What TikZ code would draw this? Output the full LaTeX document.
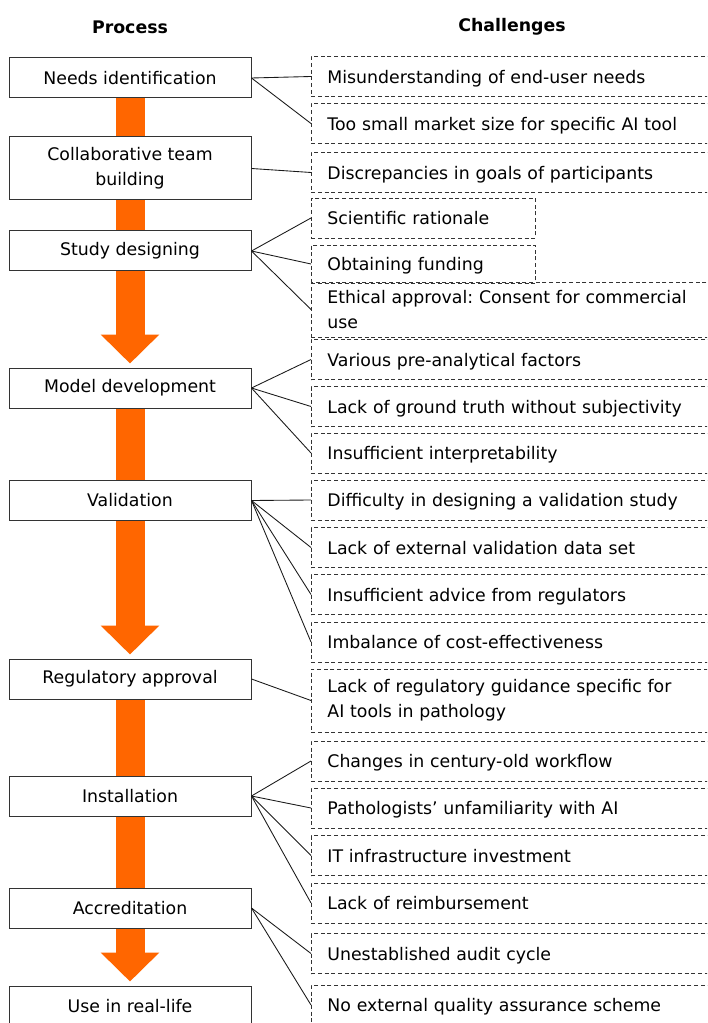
\documentclass[tikz,border=0pt]{standalone}
\usepackage{fontspec}
\setmainfont{DejaVu Sans}
\usetikzlibrary{arrows.meta,backgrounds}
\definecolor{floworange}{HTML}{FF6600}
\tikzset{
    txt/.style={font=\fontsize{13}{19}\selectfont\frenchspacing},
    proc/.style={txt, draw=black!80, fill=white, line width=0.75pt, minimum width=181.5pt,
        minimum height=30pt, inner sep=0pt, align=center},
    chalbox/.style={txt, draw=black!80, dash pattern=on 3pt off 2pt, line width=0.6pt, anchor=west,
        inner xsep=12pt, inner ysep=0pt, text width=276pt, align=left, minimum height=30pt},
    chal/.style={chalbox, text depth=0pt},
    chalshort/.style={chal, text width=144pt},
    link/.style={draw=black!90, line width=0.65pt},
    flowarrow/.style={draw=floworange, line width=21.75pt, shorten >=3pt,
        -{Triangle[width=42.75pt,length=21.75pt]}}
}
\begin{document}
\begin{tikzpicture}[x=0.75pt, y=-0.75pt]
    \clip (0,0) rectangle (707,1023);
    % headings
    \node[txt, font=\fontsize{13}{19}\selectfont\bfseries] (hproc) at (130,27) {Process};
    \node[txt, font=\fontsize{13}{19}\selectfont\bfseries] (hchal) at (512,27) {Challenges};
    % process steps
    \node[proc] (needs) at (130,78) {Needs identification};
    \node[proc, minimum height=47.25pt] (collab) at (130,168.5) {Collaborative team\\building};
    \node[proc] (study) at (130,251) {Study designing};
    \node[proc] (model) at (130,388) {Model development};
    \node[proc] (valid) at (130,500.5) {Validation};
    \node[proc] (regul) at (130,679) {Regulatory approval};
    \node[proc] (instal) at (130,796) {Installation};
    \node[proc] (accred) at (130,908) {Accreditation};
    \node[proc] (reallife) at (130,1006) {Use in real-life};
    % big arrows behind the boxes
    \begin{scope}[on background layer]
        \draw[flowarrow] (needs.south) -- (model.north);
        \draw[flowarrow] (model.south) -- (regul.north);
        \draw[flowarrow] (regul.south) -- (reallife.north);
    \end{scope}
    % challenges
    \node[chal] (c1) at (311,76.5) {Misunderstanding of end-user needs};
    \node[chal] (c2) at (311,123.5) {Too small market size for specific AI tool};
    \node[chal] (c3) at (311,172.5) {Discrepancies in goals of participants};
    \node[chalshort] (c4) at (311,218) {Scientific rationale};
    \node[chalshort, minimum height=28.5pt] (c5) at (311,264) {Obtaining funding};
    \node[chalbox, minimum height=41.25pt] (c6) at (311,309.5) {Ethical approval: Consent for commercial\\use};
    \node[chal] (c7) at (311,359.5) {Various pre-analytical factors};
    \node[chal] (c8) at (311,406.5) {Lack of ground truth without subjectivity};
    \node[chal] (c9) at (311,453) {Insufficient interpretability};
    \node[chal] (c10) at (311,500) {Difficulty in designing a validation study};
    \node[chal] (c11) at (311,547.5) {Lack of external validation data set};
    \node[chal] (c12) at (311,594.5) {Insufficient advice from regulators};
    \node[chal] (c13) at (311,642) {Imbalance of cost-effectiveness};
    \node[chalbox, minimum height=47.25pt] (c14) at (311,700.5) {Lack of regulatory guidance specific for\\AI tools in pathology};
    \node[chal] (c15) at (311,761) {Changes in century-old workflow};
    \node[chal] (c16) at (311,808) {Pathologists’ unfamiliarity with AI};
    \node[chal] (c17) at (311,855.5) {IT infrastructure investment};
    \node[chal] (c18) at (311,903) {Lack of reimbursement};
    \node[chal] (c19) at (311,953.5) {Unestablished audit cycle};
    \node[chal] (c20) at (311,1005) {No external quality assurance scheme};
    % connectors
    \draw[link] (needs.east) -- (c1.west);
    \draw[link] (needs.east) -- (c2.west);
    \draw[link] (collab.east) -- (c3.west);
    \draw[link] (study.east) -- (c4.west);
    \draw[link] (study.east) -- (c5.west);
    \draw[link] (study.east) -- (c6.west);
    \draw[link] (model.east) -- (c7.west);
    \draw[link] (model.east) -- (c8.west);
    \draw[link] (model.east) -- (c9.west);
    \draw[link] (valid.east) -- (c10.west);
    \draw[link] (valid.east) -- (c11.west);
    \draw[link] (valid.east) -- (c12.west);
    \draw[link] (valid.east) -- (c13.west);
    \draw[link] (regul.east) -- (c14.west);
    \draw[link] (instal.east) -- (c15.west);
    \draw[link] (instal.east) -- (c16.west);
    \draw[link] (instal.east) -- (c17.west);
    \draw[link] (instal.east) -- (c18.west);
    \draw[link] (accred.east) -- (c19.west);
    \draw[link] (accred.east) -- (c20.west);
\end{tikzpicture}
\end{document}
